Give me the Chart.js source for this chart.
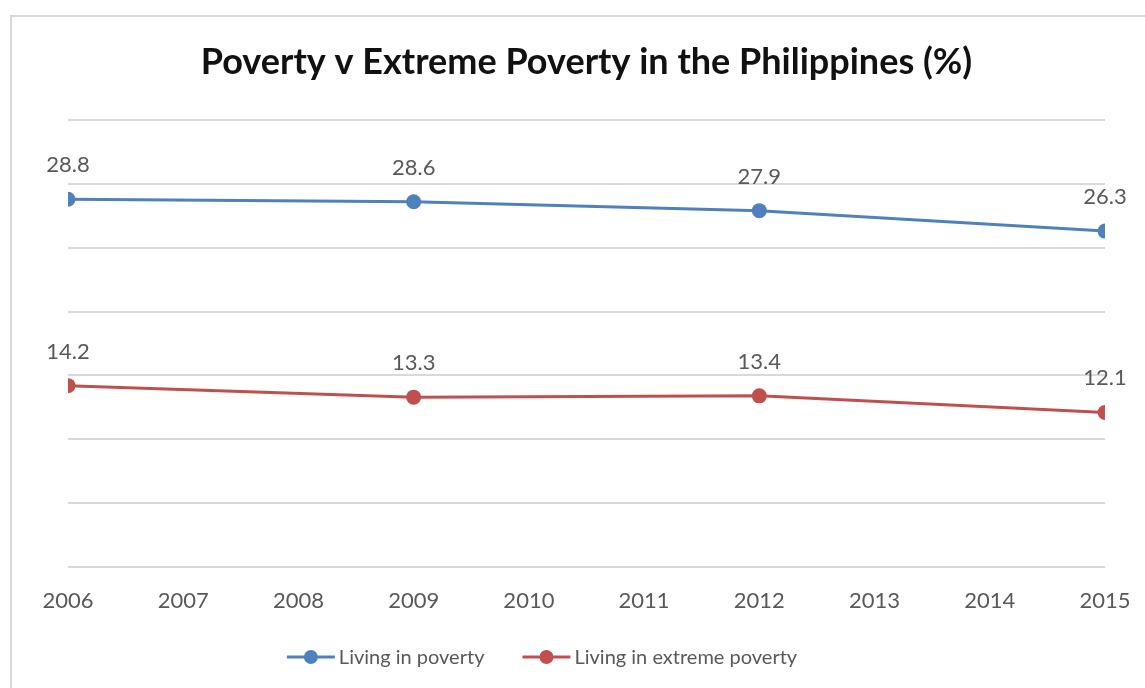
<!DOCTYPE html>
<html>
<head>
<meta charset="utf-8">
<script src="https://cdn.jsdelivr.net/npm/chart.js@4.4.0/dist/chart.umd.min.js"></script>
<style>
  html, body { margin: 0; padding: 0; background: #fff; }
  #wrap { width: 1145px; height: 688px; }
</style>
</head>
<body>
<div id="wrap"><canvas id="c" width="1145" height="688"></canvas></div>
<script>
// Данные графика
const years = [2006, 2009, 2012, 2015];
const poverty = [28.8, 28.6, 27.9, 26.3];
const extremePoverty = [14.2, 13.3, 13.4, 12.1];
const seriesNames = ['Living in poverty', 'Living in extreme poverty'];
const chartTitle = 'Poverty v Extreme Poverty in the Philippines (%)';
const xMin = 2006, xMax = 2015;
const yMin = 0, yMax = 35, yStep = 5;

const COLORS = {
  poverty: '#4f81bd',
  extreme: '#c0504d',
  grid: '#d9d9d9',
  text: '#595959',
  title: '#111111',
  frame: '#d9d9d9',
};
const FONT = 'Lato, "Open Sans", sans-serif';

// Рамка, заголовок, подписи значений и легенда
const decorPlugin = {
  id: 'decor',
  beforeDraw(chart) {
    const ctx = chart.ctx;
    ctx.save();
    ctx.fillStyle = '#fff';
    ctx.fillRect(0, 0, chart.width, chart.height);
    ctx.strokeStyle = COLORS.frame;
    ctx.lineWidth = 2;
    ctx.strokeRect(11, 16, chart.width + 40, chart.height + 40);
    const area = chart.chartArea;
    ctx.fillStyle = COLORS.title;
    ctx.font = 'bold 36px ' + FONT;
    ctx.textAlign = 'center';
    ctx.textBaseline = 'alphabetic';
    ctx.fillText(chartTitle, (area.left + area.right) / 2, 74);
    ctx.restore();
  },
  afterDatasetsDraw(chart) {
    const ctx = chart.ctx;
    ctx.save();
    ctx.fillStyle = COLORS.text;
    ctx.font = '22px ' + FONT;
    ctx.textAlign = 'center';
    ctx.textBaseline = 'alphabetic';
    chart.data.datasets.forEach((ds, i) => {
      chart.getDatasetMeta(i).data.forEach((pt, j) => {
        ctx.fillText(ds.data[j].y.toFixed(1), pt.x, pt.y - 27);
      });
    });
    ctx.restore();
  },
  afterDraw(chart) {
    const ctx = chart.ctx;
    ctx.save();
    ctx.font = '20px ' + FONT;
    ctx.textBaseline = 'middle';
    ctx.textAlign = 'left';
    const symW = 48, gapText = 4, gapItem = 38;
    const items = chart.data.datasets.map(ds => ({
      label: ds.label, color: ds.borderColor, w: symW + gapText + ctx.measureText(ds.label).width,
    }));
    const total = items.reduce((s, it) => s + it.w, 0) + gapItem * (items.length - 1);
    let x = 542 - total / 2;
    const y = 657;
    items.forEach(it => {
      ctx.strokeStyle = it.color;
      ctx.lineWidth = 3;
      ctx.beginPath();
      ctx.moveTo(x, y);
      ctx.lineTo(x + symW, y);
      ctx.stroke();
      ctx.fillStyle = it.color;
      ctx.beginPath();
      ctx.arc(x + symW / 2, y, 7, 0, Math.PI * 2);
      ctx.fill();
      ctx.fillStyle = COLORS.text;
      ctx.fillText(it.label, x + symW + gapText, y + 1);
      x += it.w + gapItem;
    });
    ctx.restore();
  },
};

const ctx = document.getElementById('c').getContext('2d');
new Chart(ctx, {
  type: 'line',
  data: {
    datasets: [
      {
        label: seriesNames[0],
        data: years.map((yr, i) => ({ x: yr, y: poverty[i] })),
        borderColor: COLORS.poverty,
        backgroundColor: COLORS.poverty,
        borderWidth: 3,
        pointRadius: 7.5,
        pointBorderWidth: 0,
        tension: 0,
      },
      {
        label: seriesNames[1],
        data: years.map((yr, i) => ({ x: yr, y: extremePoverty[i] })),
        borderColor: COLORS.extreme,
        backgroundColor: COLORS.extreme,
        borderWidth: 3,
        pointRadius: 7.5,
        pointBorderWidth: 0,
        tension: 0,
      },
    ],
  },
  options: {
    responsive: false,
    animation: false,
    layout: { padding: { left: 68, right: 40, top: 120, bottom: 0 } },
    plugins: {
      legend: { display: false },
      title: { display: false },
      tooltip: { enabled: false },
    },
    scales: {
      x: {
        type: 'linear',
        min: xMin,
        max: xMax,
        grid: { display: false },
        border: { display: false },
        ticks: {
          stepSize: 1,
          color: COLORS.text,
          font: { family: FONT, size: 22 },
          padding: 13,
          maxRotation: 0,
          callback: v => String(v),
        },
        afterFit(scale) { scale.height = 121; },
      },
      y: {
        min: yMin,
        max: yMax,
        grid: { color: COLORS.grid, lineWidth: 2, drawTicks: false },
        border: { display: false },
        ticks: { display: false, stepSize: yStep },
        afterFit(scale) { scale.width = 0; },
      },
    },
  },
  plugins: [decorPlugin],
});
</script>
</body>
</html>
